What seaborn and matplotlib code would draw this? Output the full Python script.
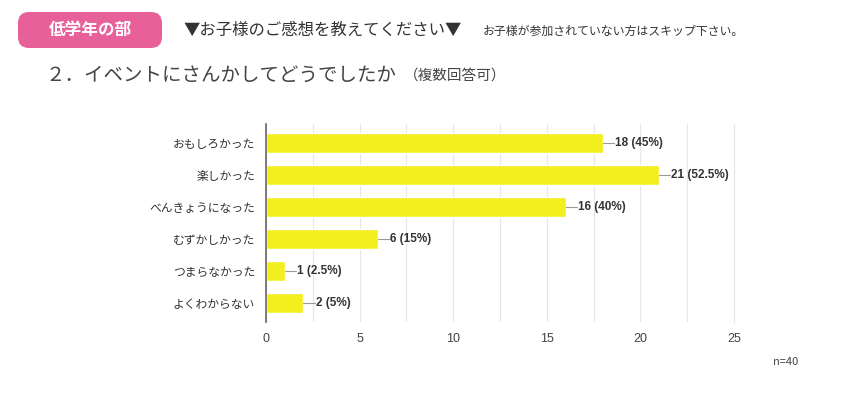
import numpy as np
import pandas as pd
import matplotlib
matplotlib.use('Agg')
import matplotlib.pyplot as plt
from matplotlib.patches import FancyBboxPatch
from matplotlib.transforms import IdentityTransform
import seaborn as sns

categories = ['おもしろかった', '楽しかった', 'べんきょうになった',
              'むずかしかった', 'つまらなかった', 'よくわからない']
counts = [18, 21, 16, 6, 1, 2]
n_total = 40
xticks = [0, 5, 10, 15, 20, 25]

sns.set_style('white')
plt.rcParams['font.family'] = ['Noto Sans CJK JP', 'DejaVu Sans']

df = pd.DataFrame({'cat': categories, 'count': counts})

W, H = 856, 396
fig = plt.figure(figsize=(W / 100, H / 100), dpi=100)
ax = fig.add_axes([266 / W, 1 - 322 / H, 468 / W, 198 / H])
sns.barplot(data=df, y='cat', x='count', color='#f3ee1e', saturation=1,
            width=0.62, ax=ax, orient='h')

ax.set_xlim(0, 25)
ax.set_xticks(xticks)
ax.set_xticks(np.arange(2.5, 25, 5), minor=True)
ax.grid(axis='x', which='both', color='#e6e6e6', lw=0.8)
ax.set_axisbelow(True)
ax.tick_params(axis='x', which='both', length=0, labelsize=9, colors='#444444', pad=8)
ax.tick_params(axis='y', length=0, labelsize=8.5, colors='#333333', pad=8)
ax.set_xlabel('')
ax.set_ylabel('')
for s in ['top', 'bottom']:
    ax.spines[s].set_visible(False)
ax.spines['right'].set_color('#e6e6e6')
ax.spines['left'].set_color('#666666')
ax.spines['left'].set_linewidth(1.2)
for lab in ax.get_xticklabels():
    lab.set_family(['Liberation Sans', 'DejaVu Sans'])

for i, v in enumerate(counts):
    pct = 100 * v / n_total
    pct_s = ('%g' % round(pct, 1))
    ax.plot([v, v + 0.6], [i, i], color='#999999', lw=0.8)
    ax.text(v + 0.65, i, '%d (%s%%)' % (v, pct_s), va='center', ha='left',
            fontsize=8.5, color='#333333', family=['Liberation Sans'],
            fontweight='bold')

# header (pixel coordinates)
box = FancyBboxPatch((18, H - 48), 144, 36,
                     boxstyle='round,pad=0,rounding_size=11',
                     transform=IdentityTransform(), facecolor='#e8609a',
                     edgecolor='none')
fig.patches.append(box)
fig.text(90 / W, 1 - 30 / H, '低学年の部', color='white', fontsize=12,
         fontweight='bold', ha='center', va='center')
fig.text(183 / W, 1 - 30 / H, '▼お子様のご感想を教えてください▼', color='#333333',
         fontsize=11.8, ha='left', va='center')
fig.text(483 / W, 1 - 31 / H, 'お子様が参加されていない方はスキップ下さい。',
         color='#333333', fontsize=8.6, ha='left', va='center')
fig.text(45 / W, 1 - 75 / H, '２．イベントにさんかしてどうでしたか', color='#444444',
         fontsize=14, ha='left', va='center')
fig.text(404 / W, 1 - 76 / H, '（複数回答可）', color='#444444',
         fontsize=10.5, ha='left', va='center')
fig.text(773 / W, 1 - 362 / H, 'n=40', color='#444444', fontsize=8,
         ha='left', va='center')

fig.savefig('out.png', dpi=100)
